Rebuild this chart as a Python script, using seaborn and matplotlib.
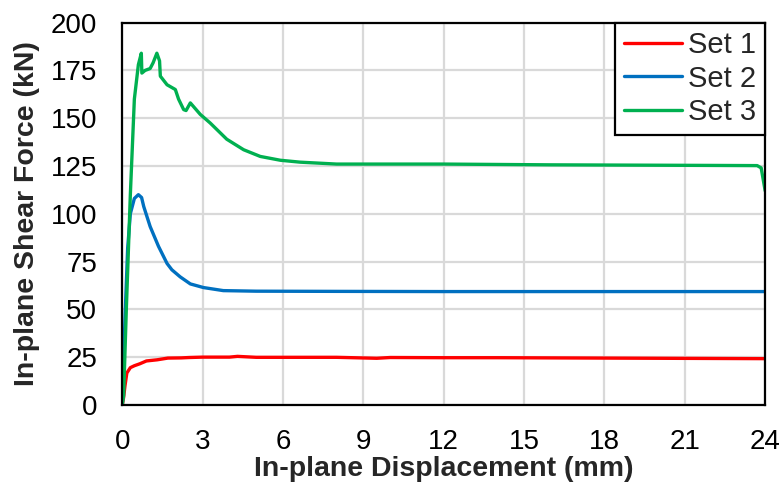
"""
In-plane shear force vs displacement for three test sets
"""
import matplotlib
matplotlib.use("Agg")
import matplotlib.pyplot as plt
import seaborn as sns
import numpy as np
import pandas as pd

# --- data ---
set1_x = [0, 0.05, 0.1, 0.17, 0.3, 0.45, 0.65, 0.9, 1.1, 1.3, 1.7, 2.2, 2.5, 3.0, 4.0,
          4.3, 5.0, 6.0, 8.0, 9.5, 10.0, 12.0, 14.0, 16.0, 18.0, 20.0, 22.0, 24.0]
set1_y = [0, 4, 10, 16.7, 19.5, 20.5, 21.5, 23.0, 23.3, 23.6, 24.5, 24.6, 24.8, 25.0, 25.0,
          25.4, 24.9, 24.9, 24.9, 24.4, 24.8, 24.7, 24.7, 24.6, 24.5, 24.4, 24.3, 24.2]

set2_x = [0, 0.1, 0.2, 0.3, 0.45, 0.6, 0.72, 0.8, 1.04, 1.35, 1.67, 1.85, 2.16, 2.54,
          3.03, 3.77, 5.0, 8.0, 12.0, 16.0, 20.0, 24.0]
set2_y = [0, 45, 82, 100, 108, 110, 108.5, 103.8, 93.3, 83, 74, 70.7, 67, 63.3,
          61.4, 59.8, 59.5, 59.4, 59.3, 59.3, 59.3, 59.3]

set3_x = [0, 0.05, 0.15, 0.3, 0.45, 0.6, 0.71, 0.73, 0.85, 1.04, 1.15, 1.29, 1.39, 1.42,
          1.67, 1.98, 2.1, 2.29, 2.38, 2.54, 2.91, 3.28, 3.9, 4.53, 5.15, 5.9, 6.64,
          8.0, 10.0, 12.0, 14.0, 16.0, 18.0, 20.0, 22.0, 23.7, 23.85, 24.0]
set3_y = [0, 5, 50, 110, 160, 178, 184, 173.6, 175, 176, 179, 184, 180, 172,
          167.5, 165, 160, 154.5, 154, 158, 152, 147.5, 139, 133.5, 130, 128, 127,
          126, 126, 126, 125.8, 125.6, 125.5, 125.4, 125.3, 125.2, 124, 112]

set_names = ["Set 1", "Set 2", "Set 3"]
set_colors = ["#ff0000", "#0070c0", "#00b050"]

x_ticks = [0, 3, 6, 9, 12, 15, 18, 21, 24]
y_ticks = [0, 25, 50, 75, 100, 125, 150, 175, 200]

frames = []
for name, xs, ys in zip(set_names, [set1_x, set2_x, set3_x], [set1_y, set2_y, set3_y]):
    frames.append(pd.DataFrame({"disp": xs, "force": ys, "set": name}))
df = pd.concat(frames, ignore_index=True)

sns.set_theme(style="whitegrid")
plt.rcParams["font.family"] = ["Liberation Sans", "DejaVu Sans"]

fig, ax = plt.subplots(figsize=(7.84, 4.92), dpi=100)
fig.subplots_adjust(left=0.156, right=0.976, top=0.954, bottom=0.177)

sns.lineplot(data=df, x="disp", y="force", hue="set", palette=dict(zip(set_names, set_colors)),
             sort=False, estimator=None, units="set", linewidth=2.4, ax=ax, legend=False)

ax.set_xlim(0, 24)
ax.set_ylim(0, 200)
ax.set_xticks(x_ticks)
ax.set_yticks(y_ticks)
ax.tick_params(axis="x", length=0, labelsize=20, pad=17, colors="black")
ax.tick_params(axis="y", length=0, labelsize=20, pad=18, colors="black")
ax.grid(True, color="#d9d9d9", linewidth=1.6)
ax.set_facecolor("white")
for sp in ax.spines.values():
    sp.set_color("black")
    sp.set_linewidth(1.6)
    sp.set_visible(True)

ax.set_xlabel("In-plane Displacement (mm)", fontsize=20.5, fontweight="bold", labelpad=1)
ax.set_ylabel("In-plane Shear Force (kN)", fontsize=20.5, fontweight="bold", labelpad=8)

handles = [plt.Line2D([], [], color=c, linewidth=2.4) for c in set_colors]
leg = ax.legend(handles, set_names, loc="upper right", fontsize=21, frameon=True,
                fancybox=False, borderaxespad=0, handlelength=2.0, handletextpad=0.2,
                labelspacing=0.18, borderpad=0.3)
leg.get_frame().set_edgecolor("black")
leg.get_frame().set_linewidth(1.6)
leg.get_frame().set_alpha(1)

fig.savefig("out.png", dpi=100)
